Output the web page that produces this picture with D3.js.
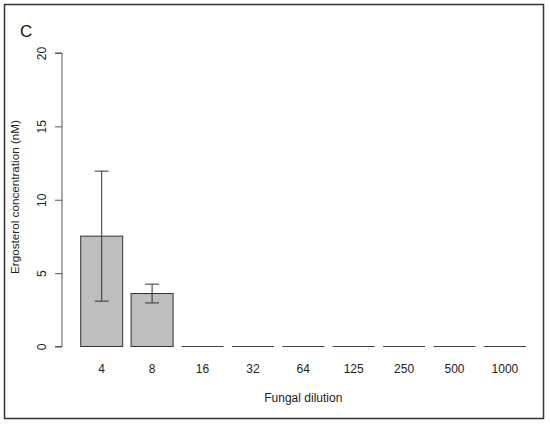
<!DOCTYPE html>
<html><head><meta charset="utf-8">
<script src="https://cdn.jsdelivr.net/npm/d3@7"></script>
<style>body{margin:0;background:#fff;} svg{display:block;font-family:"Liberation Sans",Arial,sans-serif;}</style>
</head><body>
<script>
const categories = ["4","8","16","32","64","125","250","500","1000"];
const means = [7.52, 3.61, 0, 0, 0, 0, 0, 0, 0];
const errors = [4.43, 0.64, 0, 0, 0, 0, 0, 0, 0];
const yTicks = [0, 5, 10, 15, 20];

const W = 550, H = 427;
const svg = d3.select("body").append("svg").attr("width", W).attr("height", H);

// outer frame
svg.append("rect").attr("x", 4.5).attr("y", 4.5).attr("width", 539).attr("height", 414)
  .attr("fill", "none").attr("stroke", "#333").attr("stroke-width", 1.5);

const y = d3.scaleLinear().domain([0, 20]).range([346.5, 53]);
// R-style barplot: width 1, space 0.2
const unit = 42;
const x0 = 80.7 - 0.2 * unit;
const xLeft = i => x0 + (0.2 + 1.2 * i) * unit;

// y axis
const yAxis = d3.axisLeft(y).tickValues(yTicks).tickSize(7).tickFormat(d3.format("d"));
const ga = svg.append("g").attr("transform", "translate(62,0)").call(yAxis);
ga.select(".domain").attr("stroke", "#555").attr("d", `M-7,${y(20)}H0V${y(0)}H-7`);
ga.selectAll(".tick line").attr("stroke", "#555");
ga.selectAll(".tick text").remove();
ga.selectAll(".tick").append("text")
  .attr("transform", "translate(-20,0) rotate(-90)")
  .attr("text-anchor", "middle").attr("dy", "0.35em")
  .attr("fill", "#222").attr("font-size", 12)
  .text(d => d);

// bars
const bars = svg.append("g");
categories.forEach((c, i) => {
  const v = means[i];
  const xl = xLeft(i);
  if (v > 0) {
    bars.append("rect").attr("x", xl).attr("y", y(v)).attr("width", unit).attr("height", y(0) - y(v))
      .attr("fill", "#bebebe").attr("stroke", "#333").attr("stroke-width", 1);
  } else {
    bars.append("line").attr("x1", xl).attr("x2", xl + unit).attr("y1", y(0)).attr("y2", y(0))
      .attr("stroke", "#444").attr("stroke-width", 1);
  }
  const cx = xl + unit / 2;
  if (errors[i] > 0) {
    const e = errors[i];
    bars.append("line").attr("x1", cx).attr("x2", cx).attr("y1", y(v - e)).attr("y2", y(v + e))
      .attr("stroke", "#333").attr("stroke-width", 1);
    [v - e, v + e].forEach(t => bars.append("line").attr("x1", cx - 7).attr("x2", cx + 7)
      .attr("y1", y(t)).attr("y2", y(t)).attr("stroke", "#333").attr("stroke-width", 1));
  }
  svg.append("text").attr("x", cx).attr("y", 369).attr("dy", "0.35em").attr("text-anchor", "middle")
    .attr("font-size", 12).attr("fill", "#222").text(c);
});

// titles
svg.append("text").attr("x", (xLeft(0) + xLeft(8) + unit) / 2).attr("y", 398).attr("dy", "0.35em")
  .attr("text-anchor", "middle").attr("font-size", 12).attr("fill", "#222").text("Fungal dilution");
svg.append("text").attr("transform", `translate(15,197) rotate(-90)`)
  .attr("text-anchor", "middle").attr("dy", "0.35em").attr("font-size", 11.7).attr("fill", "#222")
  .text("Ergosterol concentration (nM)");
svg.append("text").attr("x", 20).attr("y", 31).attr("dy", "0.35em").attr("font-size", 17).attr("fill", "#111").text("C");
</script>
</body></html>
